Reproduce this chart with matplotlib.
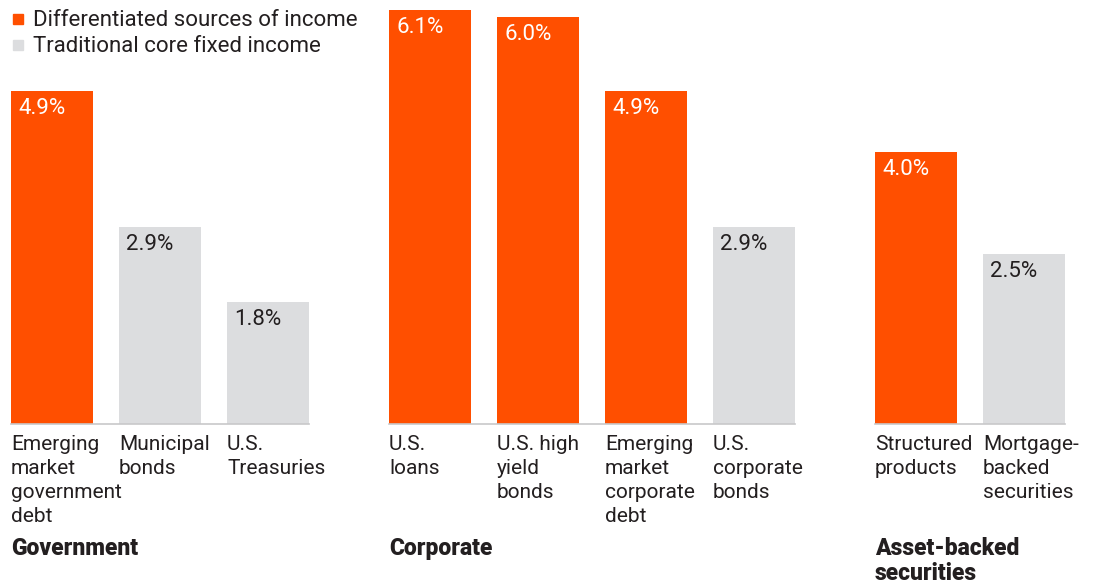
import matplotlib.pyplot as plt
from matplotlib.patches import Rectangle

categories = ["Emerging\nmarket\ngovernment\ndebt", "Municipal\nbonds", "U.S.\nTreasuries",
              "U.S.\nloans", "U.S. high\nyield\nbonds", "Emerging\nmarket\ncorporate\ndebt", "U.S.\ncorporate\nbonds",
              "Structured\nproducts", "Mortgage-\nbacked\nsecurities"]
values = [4.9, 2.9, 1.8, 6.1, 6.0, 4.9, 2.9, 4.0, 2.5]
differentiated = [True, False, False, True, True, True, False, True, False]
positions = [0, 1, 2, 3.5, 4.5, 5.5, 6.5, 8, 9]
groups = ["Government", "Corporate", "Asset-backed\nsecurities"]
group_members = [[0, 1, 2], [3, 4, 5, 6], [7, 8]]

ORANGE = "#FF4F00"
GRAY = "#DCDDDF"
TEXT = "#231F20"
plt.rcParams["font.family"] = ["Roboto", "DejaVu Sans"]

fig = plt.figure(figsize=(10.95, 5.85), dpi=100)
ax = fig.add_axes([0, 0, 1, 1])
ax.set_xlim(-52 / 108, (1095 - 52) / 108)
ax.set_ylim(-161 / 67.9, 424 / 67.9)
ax.axis("off")

width = 82 / 108
colors = [ORANGE if d else GRAY for d in differentiated]
ax.bar(positions, values, width=width, color=colors, zorder=2)

for p, v, d, c in zip(positions, values, differentiated, categories):
    left = p - width / 2
    ax.annotate(f"{v:.1f}%", (left, v), xytext=(7, -7), textcoords="offset pixels",
                ha="left", va="top", fontsize=16, color="white" if d else TEXT)
    ax.annotate(c, (left, 0), xytext=(0, -11), textcoords="offset pixels",
                ha="left", va="top", fontsize=15, color=TEXT, linespacing=1.33)

for g, members in zip(groups, group_members):
    lo = positions[members[0]] - width / 2
    hi = positions[members[-1]] + width / 2
    ax.plot([lo, hi], [0, 0], color="#C8C8CA", lw=1.2, zorder=3)
    ax.annotate(g, (lo, 0), xytext=(0, -113), textcoords="offset pixels",
                ha="left", va="top", fontsize=16.5, fontweight=900, color=TEXT,
                linespacing=1.12)

# legend
for i, (lab, col) in enumerate([("Differentiated sources of income", ORANGE),
                                 ("Traditional core fixed income", GRAY)]):
    fig.patches.append(Rectangle((13 / 1095, 1 - (24 + 26 * i) / 585), 10 / 1095, 10 / 585,
                                 transform=fig.transFigure, color=col))
    fig.text(33 / 1095, 1 - (10 + 26 * i) / 585, lab, fontsize=16, color=TEXT,
             va="top", ha="left")

fig.savefig("out.png", dpi=100)
